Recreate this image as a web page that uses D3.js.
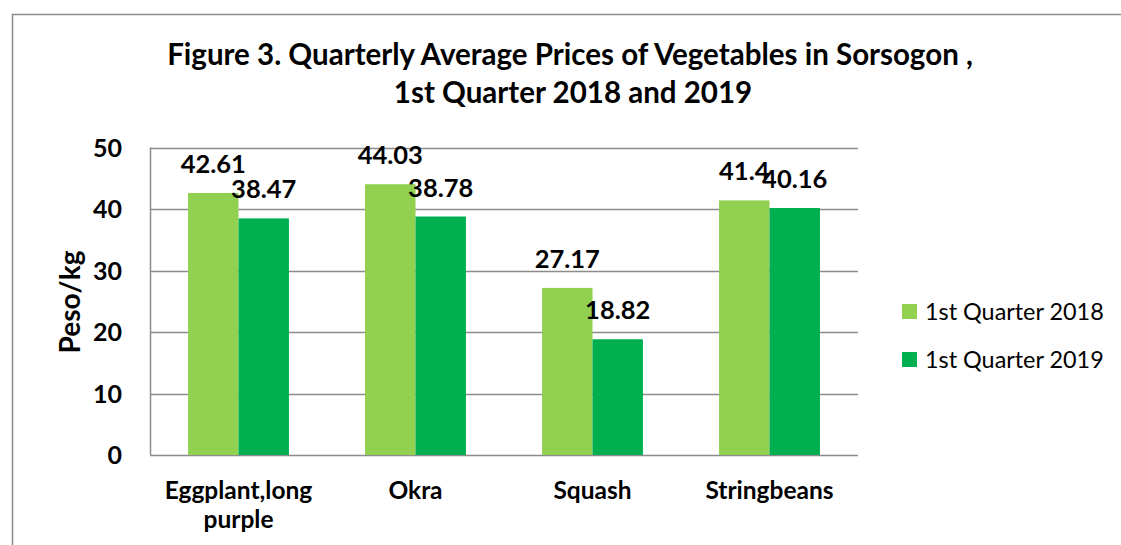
<!DOCTYPE html>
<html>
<head>
<meta charset="utf-8">
<script src="https://cdn.jsdelivr.net/npm/d3@7"></script>
<style>
  html, body { margin: 0; padding: 0; background: #fff; }
  svg { display: block; font-family: Lato, "Open Sans", sans-serif; }
</style>
</head>
<body>
<svg id="chart" width="1121" height="545"></svg>
<script>
const categories = ["Eggplant,long purple", "Okra", "Squash", "Stringbeans"];
const categoryLines = [["Eggplant,long", "purple"], ["Okra"], ["Squash"], ["Stringbeans"]];
const seriesNames = ["1st Quarter 2018", "1st Quarter 2019"];
const values2018 = [42.61, 44.03, 27.17, 41.4];
const values2019 = [38.47, 38.78, 18.82, 40.16];
const yTicks = [0, 10, 20, 30, 40, 50];
const titleLines = ["Figure 3. Quarterly Average Prices of Vegetables in Sorsogon ,", "1st Quarter 2018 and 2019"];
const yTitle = "Peso/kg";
const colors = ["#92D050", "#00B050"];

const svg = d3.select("#chart");

// outer border
svg.append("rect")
  .attr("x", 12.5).attr("y", 14.5)
  .attr("width", 1115).attr("height", 600)
  .attr("fill", "none").attr("stroke", "#8c8c8c").attr("stroke-width", 1.5);

const plot = { left: 150, right: 858, top: 147.5, bottom: 455 };

const x0 = d3.scaleBand().domain(categories)
  .range([plot.left, plot.right]).paddingInner(0.43).paddingOuter(0.215);
const x1 = d3.scaleBand().domain(seriesNames).range([0, x0.bandwidth()]).padding(0);
const y = d3.scaleLinear().domain([0, 50]).range([plot.bottom, plot.top]);

// gridlines
svg.append("g").selectAll("line").data(yTicks).join("line")
  .attr("x1", plot.left).attr("x2", plot.right)
  .attr("y1", d => Math.round(y(d)) + 0.5).attr("y2", d => Math.round(y(d)) + 0.5)
  .attr("stroke", "#8c8c8c").attr("stroke-width", 1.5);

// y axis line
svg.append("line")
  .attr("x1", plot.left + 0.5).attr("x2", plot.left + 0.5)
  .attr("y1", plot.top).attr("y2", plot.bottom)
  .attr("stroke", "#8c8c8c").attr("stroke-width", 1.5);

// y tick labels
svg.append("g").selectAll("text").data(yTicks).join("text")
  .attr("x", 122).attr("y", d => y(d))
  .attr("dy", "0.36em")
  .attr("text-anchor", "end")
  .attr("font-size", 25).attr("font-weight", "bold").attr("fill", "#000")
  .text(d => d);

// bars
const series = [values2018, values2019];
const groups = svg.append("g").selectAll("g").data(categories).join("g")
  .attr("transform", d => `translate(${x0(d)},0)`);

groups.selectAll("rect")
  .data((d, i) => seriesNames.map((s, j) => ({ s, v: series[j][i], j })))
  .join("rect")
  .attr("x", d => x1(d.s))
  .attr("y", d => y(d.v))
  .attr("width", x1.bandwidth())
  .attr("height", d => y(0) - y(d.v))
  .attr("fill", d => colors[d.j]);

groups.selectAll("text.val")
  .data((d, i) => seriesNames.map((s, j) => ({ s, v: series[j][i], j })))
  .join("text").attr("class", "val")
  .attr("x", d => x1(d.s) + x1.bandwidth() / 2)
  .attr("y", d => y(d.v) - 20)
  .attr("text-anchor", "middle")
  .attr("font-size", 25.5).attr("font-weight", "bold").attr("fill", "#000")
  .text(d => d.v);

// x labels
svg.append("g").selectAll("text").data(categories).join("text")
  .attr("x", d => x0(d) + x0.bandwidth() / 2)
  .attr("y", 499)
  .attr("text-anchor", "middle")
  .attr("font-size", 24.5).attr("font-weight", "bold").attr("fill", "#000")
  .each(function(d, i) {
    d3.select(this).selectAll("tspan").data(categoryLines[i]).join("tspan")
      .attr("x", x0(d) + x0.bandwidth() / 2)
      .attr("dy", (t, k) => k === 0 ? 0 : 29)
      .text(t => t);
  });

// y title
svg.append("text")
  .attr("transform", "translate(80,302) rotate(-90)")
  .attr("text-anchor", "middle")
  .attr("font-size", 28).attr("font-weight", "bold").attr("fill", "#000")
  .text(yTitle);

// title
const t1 = svg.append("text")
  .attr("x", 570).attr("y", 65).attr("text-anchor", "middle")
  .attr("font-weight", "bold").attr("fill", "#000")
  .attr("font-size", 26)
  .text(titleLines[0]);
const fs = 26 * 806 / t1.node().getComputedTextLength();
t1.attr("font-size", fs);
svg.append("text")
  .attr("x", 573).attr("y", 103).attr("text-anchor", "middle")
  .attr("font-weight", "bold").attr("fill", "#000")
  .attr("font-size", fs)
  .text(titleLines[1]);

// legend
const legend = svg.append("g").selectAll("g").data(seriesNames).join("g")
  .attr("transform", (d, i) => `translate(902,${304 + i * 48})`);
legend.append("rect").attr("width", 15).attr("height", 15)
  .attr("fill", (d, i) => colors[i]);
legend.append("text")
  .attr("x", 23).attr("y", 16)
  .attr("font-size", 23.4).attr("fill", "#000")
  .text(d => d);
</script>
</body>
</html>
